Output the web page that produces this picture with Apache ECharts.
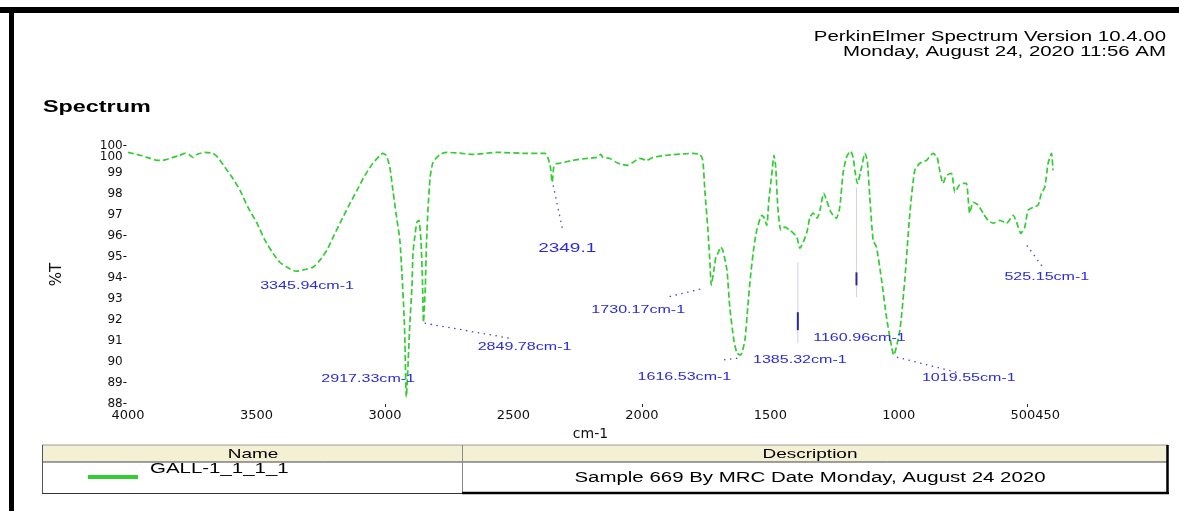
<!DOCTYPE html>
<html><head><meta charset="utf-8">
<script src="https://cdn.jsdelivr.net/npm/echarts@6/dist/echarts.min.js"></script>
<style>html,body{margin:0;padding:0;background:#fff}#c{width:1179px;height:511px}</style>
</head><body><div id="c"></div>
<script>
// ---- data ----
const spectrumWavenumber = [
 4000,3953,3914,3887,3864,3825,3798,3778,3763,3747,3732,3700,3669,3650,3623,3595,3564,3533,3498,3467,
 3436,3409,3381,3346,3304,3280,3253,3226,3202,3175,3144,3109,3078,3047,3019,3008,2995,2981,2969,2957,
 2942,2934,2926,2922,2917,2903,2895,2891,2883,2876,2868,2860,2854,2850,2843,2838,2832,2824,2813,2786,
 2759,2700,2658,2564,2447,2377,2366,2356,2349,2343,2335,2319,2268,2214,2175,2160,2152,2125,2093,2058,
 2035,2008,1981,1957,1903,1802,1774,1763,1755,1743,1735,1730,1720,1712,1704,1693,1685,1669,1658,1642,
 1630,1616,1599,1588,1576,1564,1553,1533,1525,1514,1506,1494,1486,1479,1471,1459,1444,1424,1397,1385,
 1359,1346,1333,1318,1307,1292,1281,1268,1256,1243,1230,1217,1204,1188,1178,1171,1161,1145,1132,1123,
 1113,1100,1087,1067,1048,1028,1020,996,977,957,938,918,892,867,851,841,828,815,795,782,
 765,750,737,724,711,691,672,653,633,607,581,555,542,525,510,497,477,458,445,432,
 419,406,400
];
const spectrumTransmittance = [
 100.00,99.86,99.71,99.62,99.62,99.76,99.86,99.95,99.90,99.76,99.90,100.00,99.95,99.76,99.29,98.81,98.19,97.38,96.62,95.81,
 95.19,94.76,94.52,94.33,94.43,94.52,94.86,95.33,95.95,96.62,97.38,98.19,98.90,99.48,99.86,99.95,99.85,99.29,98.19,97.10,
 95.81,94.24,92.33,90.90,88.33,91.86,93.57,95.19,96.05,96.67,96.76,95.81,93.90,91.90,93.57,95.81,97.38,98.81,99.52,99.90,
 100.00,99.95,99.90,100.00,99.95,99.95,99.76,99.29,98.57,99.29,99.45,99.48,99.62,99.71,99.76,99.90,99.76,99.71,99.48,99.38,
 99.52,99.71,99.62,99.76,99.86,99.95,99.90,99.62,98.19,96.29,94.71,93.67,94.38,95.00,95.19,95.48,95.33,94.38,92.62,91.05,
 90.43,90.33,91.05,92.62,94.24,95.48,96.29,97.00,96.90,96.52,97.71,99.00,99.86,99.29,97.38,96.29,96.43,96.29,95.95,95.43,
 96.14,96.90,97.10,96.86,97.24,98.05,97.71,97.24,97.00,96.86,97.38,99.00,99.76,100.05,99.76,99.14,98.52,99.29,99.95,99.62,
 97.86,95.81,95.48,93.90,92.14,90.71,90.33,91.52,93.90,97.10,99.14,99.48,99.62,99.95,99.76,99.14,98.52,98.90,99.00,98.10,
 98.43,98.52,98.52,97.10,97.62,97.48,97.10,96.76,96.62,96.76,96.62,97.00,96.67,96.14,96.43,97.24,97.38,97.48,98.05,98.33,
 99.48,99.95,99.14
];
const peakWavenumbers = [3345.94, 2917.33, 2849.78, 2349.1, 1730.17, 1616.53, 1385.32, 1160.96, 1019.55, 525.15];
const peakTransmittance = [94.33, 88.33, 91.90, 98.57, 93.67, 90.33, 95.43, 98.52, 90.33, 96.14];
const peakLabels = ['3345.94cm-1','2917.33cm-1','2849.78cm-1','2349.1','1730.17cm-1','1616.53cm-1','1385.32cm-1','1160.96cm-1','1019.55cm-1','525.15cm-1'];
const xTickValues = [4000,3500,3000,2500,2000,1500,1000,500,450];
const xTickLabels = ['4000','3500','3000','2500','2000','1500','1000','500','450'];
const xMarkedTicks = [3000,2000,500];
const yTickValues = [88,89,90,91,92,93,94,95,96,97,98,99,99.8,100.3];
const yTickLabels = ['88-','89-','90','91','92','93','94-','95-','96-','97','98','99','100','100-'];
const seriesName = 'GALL-1_1_1_1';
const seriesDescription = 'Sample 669 By MRC Date Monday, August 24 2020';

// ---- layout / style (pixel offsets relative to each peak) ----
const annotationLayout = [
  {dx: 11, dy: 15},
  {dx: -38, dy: -18},
  {dx: 101, dy: 25, lead: [1, 1, 86, 16]},
  {dx: 15, dy: 66, lead: [1, 3, 11, 50], size: 13},
  {dx: -73, dy: 25, lead: [-11, 4, -44, 12]},
  {dx: -56, dy: 22, lead: [-3, 3, -18, 5]},
  {dx: 0, dy: 112, vline: [-2, 14, 95], mark: [64, 82]},
  {dx: 2, dy: 155, vline: [-1, 4, 114], mark: [89, 102]},
  {dx: 75, dy: 23, lead: [3, 2, 66, 18]},
  {dx: 26, dy: 44, lead: [6, 12, 22, 34]}
];
const GREEN = '#33cc33';
const BLUE = '#2b2bdc';
const SX = 1.46;
const FONT = '"Liberation Sans", Arial, sans-serif';
const AXFONT = '"DejaVu Sans", sans-serif';

function txt(x, y, text, size, align, weight, color) {
  return {type: 'text', x: x, y: y, scaleX: SX, silent: true,
    style: {text: text, font: (weight || 'normal') + ' ' + size + 'px ' + FONT, fill: color || '#000',
      textAlign: align, textVerticalAlign: 'middle', align: align, verticalAlign: 'middle'}};
}
function rect(x, y, w, h, fill) {
  return {type: 'rect', silent: true, shape: {x: x, y: y, width: w, height: h}, style: {fill: fill}};
}
function seg(x1, y1, x2, y2, color, w) {
  return {type: 'line', silent: true, shape: {x1: x1, y1: y1, x2: x2, y2: y2}, style: {stroke: color, lineWidth: w}};
}

function renderPeak(params, api) {
  const i = params.dataIndex;
  const L = annotationLayout[i];
  const p = api.coord([api.value(0), api.value(1)]);
  const ch = [];
  if (L.lead) {
    ch.push({type: 'line', shape: {x1: p[0] + L.lead[0], y1: p[1] + L.lead[1], x2: p[0] + L.lead[2], y2: p[1] + L.lead[3]},
      style: {stroke: '#4a4ac8', lineWidth: 1.3, lineDash: [1.5, 4.5]}});
  }
  if (L.vline) {
    ch.push({type: 'line', shape: {x1: p[0] + L.vline[0], y1: p[1] + L.vline[1], x2: p[0] + L.vline[0], y2: p[1] + L.vline[2]},
      style: {stroke: '#cfcff0', lineWidth: 1}});
    ch.push({type: 'line', shape: {x1: p[0] + L.vline[0], y1: p[1] + L.mark[0], x2: p[0] + L.vline[0], y2: p[1] + L.mark[1]},
      style: {stroke: '#2a2aa0', lineWidth: 2}});
  }
  const size = L.size || 11;
  ch.push({type: 'text', x: p[0] + L.dx, y: p[1] + L.dy, scaleX: SX,
    style: {text: peakLabels[i], fill: BLUE, font: 'normal ' + size + 'px ' + FONT,
      textAlign: 'center', textVerticalAlign: 'middle', align: 'center', verticalAlign: 'middle'}});
  return {type: 'group', children: ch};
}

function yLabel(v) {
  const i = yTickValues.findIndex(function (t) { return Math.abs(t - v) < 1e-6; });
  const s = i >= 0 ? yTickLabels[i] : '';
  return s.endsWith('-') ? '{n|' + s.slice(0, -1) + '}{d|-}' : '{n|' + s + '}{h|-}';
}
const yRich = {
  n: {fontFamily: AXFONT, fontSize: 12, color: '#111'},
  d: {fontFamily: AXFONT, fontSize: 12, color: '#111'},
  h: {fontFamily: AXFONT, fontSize: 12, color: 'transparent'}
};
const Y_MIN = 88, Y_MAX = 100.35;

const chart = echarts.init(document.getElementById('c'), null, {renderer: 'canvas'});
chart.setOption({
  animation: false,
  backgroundColor: '#fff',
  grid: {left: 128, right: 126, top: 145, bottom: 107, containLabel: false},
  xAxis: {
    type: 'value', inverse: true, min: 400, max: 4000,
    name: 'cm-1', nameLocation: 'middle', nameGap: 21,
    nameTextStyle: {fontFamily: AXFONT, fontSize: 14, color: '#111'},
    axisLine: {show: false}, splitLine: {show: false},
    axisTick: {show: true, customValues: xMarkedTicks, length: 3, lineStyle: {color: '#222', width: 1}},
    axisLabel: {
      customValues: xTickValues, margin: 5, color: '#111', fontFamily: AXFONT, fontSize: 13,
      formatter: function (v) {
        const i = xTickValues.indexOf(v);
        const s = i >= 0 ? xTickLabels[i] : '';
        if (v === 500) return '{l|' + s + '}';
        if (v === 450) return '{r|' + s + '}';
        return '{n|' + s + '}';
      },
      rich: {
        n: {fontFamily: AXFONT, fontSize: 13, color: '#111'},
        l: {fontFamily: AXFONT, fontSize: 13, color: '#111', padding: [0, 9, 0, 0]},
        r: {fontFamily: AXFONT, fontSize: 13, color: '#111', padding: [0, 0, 0, 15]}
      }
    }
  },
  yAxis: [
    {
      type: 'value', min: Y_MIN, max: Y_MAX, position: 'left',
      name: '%T', nameLocation: 'middle', nameGap: 63,
      nameTextStyle: {fontFamily: AXFONT, fontSize: 15, color: '#111'},
      axisLine: {show: false}, splitLine: {show: false}, axisTick: {show: false},
      axisLabel: {customValues: yTickValues.slice(0, -1), hideOverlap: false, margin: 1,
        formatter: yLabel, rich: yRich}
    },
    {
      type: 'value', min: Y_MIN, max: Y_MAX, position: 'left', offset: 0,
      axisLine: {show: false}, splitLine: {show: false}, axisTick: {show: false},
      axisLabel: {customValues: yTickValues.slice(-1), hideOverlap: false, margin: 1,
        formatter: yLabel, rich: yRich}
    }
  ],
  series: [
    {
      name: seriesName, type: 'line', showSymbol: false, smooth: 0.2, silent: true,
      data: spectrumWavenumber.map(function (w, i) { return [w, spectrumTransmittance[i]]; }),
      lineStyle: {color: GREEN, width: 1.7, type: [6, 3]}
    },
    {
      type: 'custom', coordinateSystem: 'cartesian2d', silent: true, clip: false,
      encode: {x: 0, y: 1},
      data: peakWavenumbers.map(function (w, i) { return [w, peakTransmittance[i]]; }),
      renderItem: renderPeak, z: 5
    }
  ],
  graphic: {elements: [
    rect(0, 7, 1179, 6, '#000'),
    rect(9, 7, 5, 504, '#000'),
    txt(1166, 37, 'PerkinElmer Spectrum Version 10.4.00', 14, 'right'),
    txt(1166, 52, 'Monday, August 24, 2020 11:56 AM', 14, 'right'),
    txt(43, 108, 'Spectrum', 16, 'left', 'bold'),
    rect(42, 445, 1126, 17, '#f4f0d4'),
    seg(42, 445, 1168, 445, '#9a9a9a', 1),
    seg(42, 462, 1168, 462, '#444', 1),
    seg(42.5, 445, 42.5, 494, '#555', 1),
    seg(462.5, 445, 462.5, 494, '#8a8a8a', 1),
    seg(42, 493.5, 462, 493.5, '#333', 1.2),
    seg(462, 493, 1169, 493, '#000', 2.5),
    seg(1167.5, 445, 1167.5, 494, '#000', 2.5),
    txt(253, 454, 'Name', 13, 'center'),
    txt(810, 454, 'Description', 13, 'center'),
    seg(88, 477, 138, 477, GREEN, 4),
    txt(150, 469, seriesName, 14, 'left'),
    txt(810, 478, seriesDescription, 14, 'center')
  ]}
});
</script>
</body></html>
